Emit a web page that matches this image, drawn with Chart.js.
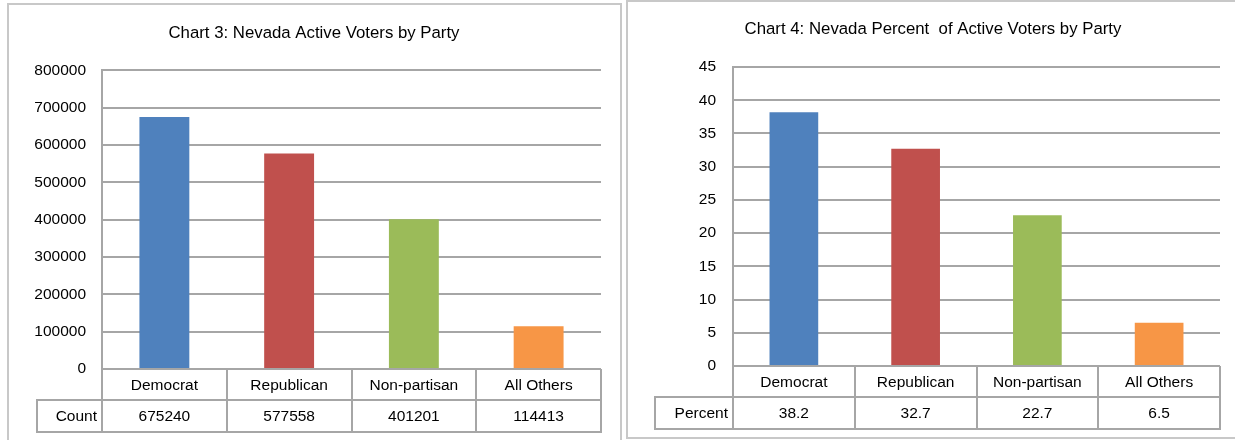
<!DOCTYPE html>
<html>
<head>
<meta charset="utf-8">
<script src="https://cdn.jsdelivr.net/npm/chart.js@4"></script>
<style>
  html, body { margin: 0; padding: 0; background: #ffffff; }
  body { width: 1235px; height: 440px; position: relative; overflow: hidden; }
  .wrap { position: absolute; top: 0; height: 440px; }
  .frame { position: absolute; box-sizing: border-box; border: 2px solid #c8c8c8; pointer-events: none; }
</style>
</head>
<body>
<div class="frame" style="left:7px; top:3px; width:615px; height:460px;"></div>
<div class="frame" style="left:626px; top:0px; width:700px; height:439px;"></div>
<div class="wrap" style="left:0px; width:620px;"><canvas id="c1" width="620" height="440"></canvas></div>
<div class="wrap" style="left:620px; width:615px;"><canvas id="c2" width="615" height="440"></canvas></div>
<script>
// ---- data ----
const categories = ['Democrat', 'Republican', 'Non-partisan', 'All Others'];
const countValues = [675240, 577558, 401201, 114413];
const percentValues = [38.2, 32.7, 22.7, 6.5];
const countLabels = ['675240', '577558', '401201', '114413'];
const percentLabels = ['38.2', '32.7', '22.7', '6.5'];
const countAxis = { min: 0, max: 800000, step: 100000 };
const percentAxis = { min: 0, max: 45, step: 5 };
const barColors = ['#4F81BD', '#C0504D', '#9BBB59', '#F79646'];
const title1 = 'Chart 3: Nevada Active Voters by Party';
const title2 = 'Chart 4: Nevada Percent  of Active Voters by Party';
const rowLabel1 = 'Count';
const rowLabel2 = 'Percent';

// ---- styling ----
const FONT = "'Liberation Sans', Arial, sans-serif";
const GRID = '#a6a6a6';
const TEXT = '#000000';

const tablePlugin = {
  id: 'dataTable',
  afterDraw(chart, args, opts) {
    const ctx = chart.ctx;
    const xs = chart.scales.x;
    const area = chart.chartArea;
    const n = chart.data.labels.length;
    const colW = (area.right - area.left) / n;
    const top = area.bottom;
    const r1 = top + opts.row1;
    const r2 = r1 + opts.row2;
    const px = v => Math.round(v);
    ctx.save();
    ctx.strokeStyle = GRID;
    ctx.lineWidth = 2;
    ctx.beginPath();
    // horizontal lines
    ctx.moveTo(px(area.left) - 1, px(top)); ctx.lineTo(px(area.right), px(top));
    ctx.moveTo(px(opts.left) - 1, px(r1)); ctx.lineTo(px(area.right), px(r1));
    ctx.moveTo(px(opts.left) - 1, px(r2)); ctx.lineTo(px(area.right) + 1, px(r2));
    // vertical lines
    for (let i = 0; i <= n; i++) {
      const x = px(area.left + i * colW);
      ctx.moveTo(x, px(top)); ctx.lineTo(x, px(r2));
    }
    ctx.moveTo(px(opts.left), px(r1)); ctx.lineTo(px(opts.left), px(r2));
    ctx.stroke();
    // texts
    ctx.fillStyle = TEXT;
    ctx.font = '15.5px ' + FONT;
    ctx.textBaseline = 'middle';
    ctx.textAlign = 'center';
    for (let i = 0; i < n; i++) {
      const cx = xs.getPixelForValue(i);
      ctx.fillText(chart.data.labels[i], cx, (top + r1) / 2 + 1);
      ctx.fillText(opts.values[i], cx, (r1 + r2) / 2 + 1);
    }
    ctx.textAlign = 'right';
    ctx.fillText(opts.rowLabel, area.left - 5, (r1 + r2) / 2 + 1);
    ctx.restore();
  }
};

function makeChart(id, cfg) {
  return new Chart(document.getElementById(id), {
    type: 'bar',
    data: {
      labels: categories,
      datasets: [{
        data: cfg.values,
        backgroundColor: barColors,
        borderWidth: 0,
        barPercentage: 0.4,
        categoryPercentage: 1.0
      }]
    },
    plugins: [tablePlugin],
    options: {
      responsive: false,
      animation: false,
      devicePixelRatio: 1,
      layout: { padding: { left: cfg.padLeft, right: cfg.padRight, top: 0, bottom: cfg.padBottom } },
      plugins: {
        legend: { display: false },
        tooltip: { enabled: false },
        title: {
          display: true,
          text: cfg.title,
          color: TEXT,
          font: { family: FONT, size: 16.8, weight: 'normal', lineHeight: 1.2 },
          padding: { top: cfg.titleTop, bottom: cfg.titleBottom }
        },
        dataTable: {
          left: cfg.tableLeft,
          row1: cfg.row1,
          row2: cfg.row2,
          values: cfg.valueLabels,
          rowLabel: cfg.rowLabel
        }
      },
      scales: {
        x: { display: false },
        y: {
          min: cfg.axis.min,
          max: cfg.axis.max,
          afterFit(scale) {
            scale.width = cfg.yWidth;
            scale.paddingTop = 0;
            scale.paddingBottom = 0;
          },
          ticks: {
            stepSize: cfg.axis.step,
            color: TEXT,
            padding: cfg.tickPad,
            font: { family: FONT, size: 15.5 },
            callback: v => String(v)
          },
          grid: { color: GRID, lineWidth: 2, drawTicks: false },
          border: { display: true, color: GRID, width: 2 }
        }
      }
    }
  });
}

makeChart('c1', {
  values: countValues, valueLabels: countLabels, axis: countAxis, title: title1, rowLabel: rowLabel1,
  padLeft: 27, yWidth: 75, padRight: 19, padBottom: 71,
  titleTop: 23, titleBottom: 27.2, tickPad: 16,
  tableLeft: 37, row1: 31, row2: 32
});

makeChart('c2', {
  values: percentValues, valueLabels: percentLabels, axis: percentAxis, title: title2, rowLabel: rowLabel2,
  padLeft: 26, yWidth: 87, padRight: 15, padBottom: 74,
  titleTop: 19.4, titleBottom: 27.5, tickPad: 17,
  tableLeft: 35, row1: 31, row2: 31.5
});
</script>
</body>
</html>
